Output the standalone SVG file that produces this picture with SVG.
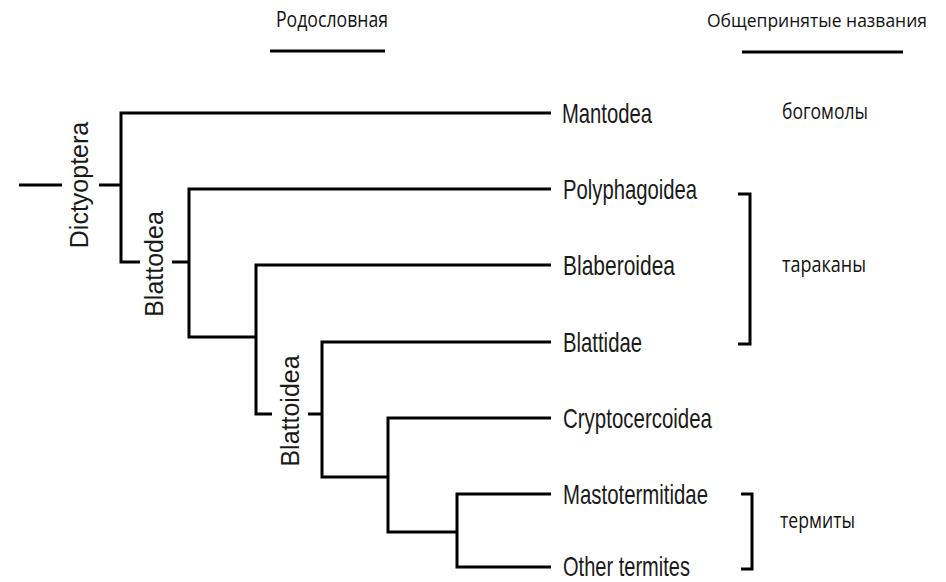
<svg xmlns="http://www.w3.org/2000/svg" width="946" height="582" viewBox="0 0 946 582">
<style>
.br{fill:none;stroke:#000;stroke-width:3;stroke-linecap:butt;stroke-linejoin:miter}
.lbl{font-family:"Liberation Sans",Arial,sans-serif;font-size:28px;fill:#1a1a1a}
.vl{font-family:"Liberation Sans",Arial,sans-serif;font-size:25px;fill:#1a1a1a;text-anchor:middle}
.ru{font-family:"Open Sans","Noto Sans",sans-serif;font-size:21px;fill:#111}
</style>
<rect width="946" height="582" fill="#fff"/>
<g id="connectors" class="br">
<path d="M19 185H62M99 185H121"/>
<path d="M551 113H121V262H140M172 262H189"/>
<path d="M551 189H189V337H256"/>
<path d="M551 265H256V414H272M308 414H322"/>
<path d="M551 342H322V477H388"/>
<path d="M551 418H388V532H457"/>
<path d="M551 494H457V567H551"/>
<path d="M270 51H385M742 52H903"/>
<path d="M738 194H750V344H738"/>
<path d="M741 494H752V569H741"/>
</g>
<g id="n-dictyoptera"><text class="vl" transform="translate(88,185) rotate(-90)">Dictyoptera</text></g>
<g id="n-blattodea"><text class="vl" transform="translate(163,264) rotate(-90)">Blattodea</text></g>
<g id="n-blattoidea"><text class="vl" transform="translate(299,411) rotate(-90)">Blattoidea</text></g>
<g id="n-mantodea"><text class="lbl" x="562" y="123" textLength="90" lengthAdjust="spacingAndGlyphs">Mantodea</text></g>
<g id="n-polyphagoidea"><text class="lbl" x="563" y="199" textLength="134" lengthAdjust="spacingAndGlyphs">Polyphagoidea</text></g>
<g id="n-blaberoidea"><text class="lbl" x="563" y="275" textLength="112" lengthAdjust="spacingAndGlyphs">Blaberoidea</text></g>
<g id="n-blattidae"><text class="lbl" x="563" y="352" textLength="79" lengthAdjust="spacingAndGlyphs">Blattidae</text></g>
<g id="n-cryptocercoidea"><text class="lbl" x="563" y="428" textLength="149" lengthAdjust="spacingAndGlyphs">Cryptocercoidea</text></g>
<g id="n-mastotermitidae"><text class="lbl" x="563" y="504" textLength="145" lengthAdjust="spacingAndGlyphs">Mastotermitidae</text></g>
<g id="n-other"><text class="lbl" x="563" y="576" textLength="127" lengthAdjust="spacingAndGlyphs">Other termites</text></g>
<g id="h-rodoslovnaya"><text class="ru" x="276" y="27" textLength="112" lengthAdjust="spacingAndGlyphs">Родословная</text></g>
<g id="h-names"><text class="ru" x="707" y="27" style="font-size:19px" textLength="220" lengthAdjust="spacingAndGlyphs">Общепринятые названия</text></g>
<g id="c-bogomoly"><text class="ru" x="782" y="119" textLength="86" lengthAdjust="spacingAndGlyphs">богомолы</text></g>
<g id="c-tarakany"><text class="ru" x="782" y="272" textLength="84" lengthAdjust="spacingAndGlyphs">тараканы</text></g>
<g id="c-termity"><text class="ru" x="780" y="528" textLength="75" lengthAdjust="spacingAndGlyphs">термиты</text></g>
</svg>
